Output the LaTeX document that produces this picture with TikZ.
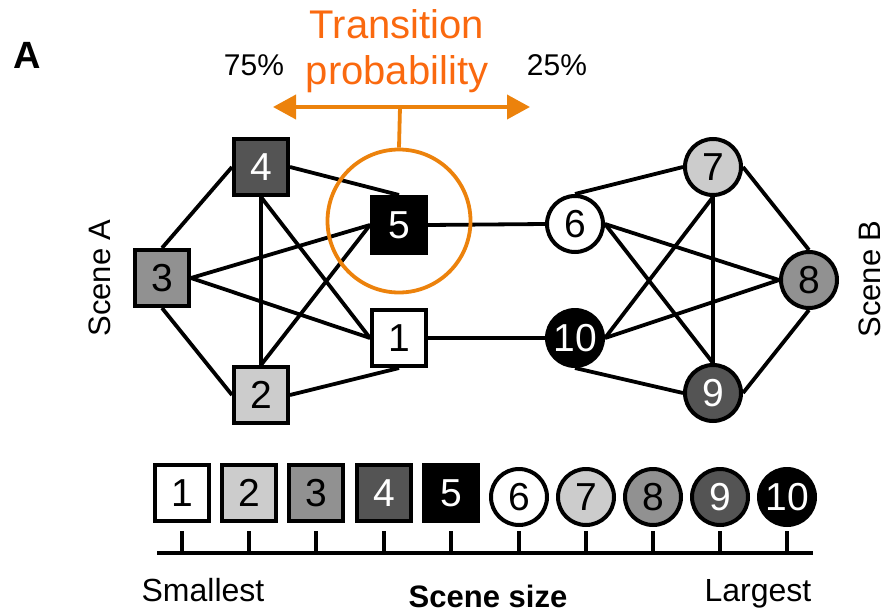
\documentclass[tikz,border=0pt]{standalone}
\usepackage{fontspec}
\setmainfont{Liberation Sans}
\usetikzlibrary{arrows.meta,backgrounds}
\definecolor{gtwo}{HTML}{CCCCCC}
\definecolor{gthree}{HTML}{919191}
\definecolor{gfour}{HTML}{545454}
\definecolor{orarrow}{RGB}{236,130,12}
\definecolor{ortext}{RGB}{250,105,15}
\newcommand\numfnt{\fontsize{39}{39}\selectfont}
\begin{document}
\begin{tikzpicture}[x=1pt,y=-1pt,
  sq/.style={draw=black, line width=4pt, rectangle, minimum width=54pt, minimum height=56pt, inner sep=0pt, font=\numfnt},
  ci/.style={draw=black, line width=4pt, circle, minimum size=56pt, inner sep=0pt, font=\numfnt},
  edge/.style={line width=3.8pt, black},
  tick/.style={line width=3.8pt, black},
  lbl/.style={font=\fontsize{30}{30}\selectfont},
  orline/.style={line width=3.8pt, orarrow}]
\useasboundingbox (0,0) rectangle (889,613);

% Scene A nodes
\node[sq, fill=white] (n1) at (399,338) {1};
\node[sq, fill=gtwo] (n2) at (261,395) {2};
\node[sq, fill=gthree] (n3) at (162,278) {3};
\node[sq, fill=gfour, text=white] (n4) at (261,167) {4};
\node[sq, fill=black, text=white] (n5) at (399,225) {5};
% Scene B nodes
\node[ci, fill=white] (n6) at (575,224) {6};
\node[ci, fill=gtwo] (n7) at (713,167) {7};
\node[ci, fill=gthree] (n8) at (809,280) {8};
\node[ci, fill=gfour, text=white] (n9) at (713,393) {9};
\node[ci, fill=black, text=white] (n10) at (575,338) {10};

\begin{scope}[on background layer]
  \draw[edge] (n3.north) -- (n4.west);
  \draw[edge] (n3.east) -- (n5.west);
  \draw[edge] (n3.east) -- (n1.west);
  \draw[edge] (n3.south) -- (n2.west);
  \draw[edge] (n4.east) -- (n5.north);
  \draw[edge] (n4.south) -- (n2.north);
  \draw[edge] (n4.south) -- (n1.west);
  \draw[edge] (n2.north) -- (n5.west);
  \draw[edge] (n2.east) -- (n1.south);
  \draw[edge] (n5.east) -- (n6.west);
  \draw[edge] (n1.east) -- (n10.west);
  \draw[edge] (n6.north) -- (n7.west);
  \draw[edge] (n6.east) -- (n8.west);
  \draw[edge] (n6.east) -- (n9.north);
  \draw[edge] (n7.south) -- (n9.north);
  \draw[edge] (n7.south) -- (n10.east);
  \draw[edge] (n7.east) -- (n8.north);
  \draw[edge] (n10.east) -- (n8.west);
  \draw[edge] (n10.south) -- (n9.west);
  \draw[edge] (n9.east) -- (n8.south);
\end{scope}

% highlight circle and transition arrow
\node[circle, draw=orarrow, line width=3.8pt, minimum size=143pt, inner sep=0pt] (hl) at (399,221) {};
\coordinate (arrL) at (273,107);
\coordinate (arrR) at (530,107);
\coordinate (arrM) at (400,107);
\draw[orline, {Triangle[length=23pt,width=24pt]}-{Triangle[length=23pt,width=24pt]}] (arrL) -- (arrR);
\draw[orline] (hl.north) -- (arrM);

\node[text=ortext, font=\fontsize{40}{46}\selectfont, align=center, anchor=base] (tp) at (397,84) {Transition\\probability};
\node[lbl, anchor=base] (p75) at (254,75) {75\%};
\node[lbl, anchor=base] (p25) at (557,75) {25\%};
\node[font=\fontsize{38}{38}\selectfont\bfseries, anchor=base] (panel) at (27,68) {A};

\node[rotate=90, font=\fontsize{31}{31}\selectfont] (sa) at (100,278) {Scene A};
\node[rotate=90, font=\fontsize{31}{31}\selectfont] (sb) at (870,279) {Scene B};

% legend row
\node[sq, fill=white] (k1) at (182,493) {1};
\node[sq, fill=gtwo] (k2) at (249,493) {2};
\node[sq, fill=gthree] (k3) at (316,493) {3};
\node[sq, fill=gfour, text=white] (k4) at (384,493) {4};
\node[sq, fill=black, text=white] (k5) at (451,493) {5};
\node[ci, fill=white] (k6) at (519,497) {6};
\node[ci, fill=gtwo] (k7) at (586,497) {7};
\node[ci, fill=gthree] (k8) at (653,497) {8};
\node[ci, fill=gfour, text=white] (k9) at (720,497) {9};
\node[ci, fill=black, text=white] (k10) at (787,497) {10};

\draw[tick] (157,553) -- (813,553);
\foreach \x in {182,249,316,384,451,519,586,653,720,787}
  \draw[tick] (\x,531) -- (\x,553);

\node[font=\fontsize{32}{32}\selectfont, anchor=base] (sm) at (203,601) {Smallest};
\node[font=\fontsize{32}{32}\selectfont, anchor=base] (lg) at (758,601) {Largest};
\node[font=\fontsize{31}{31}\selectfont\bfseries, anchor=base] (ss) at (488,607) {Scene size};
\end{tikzpicture}
\end{document}
